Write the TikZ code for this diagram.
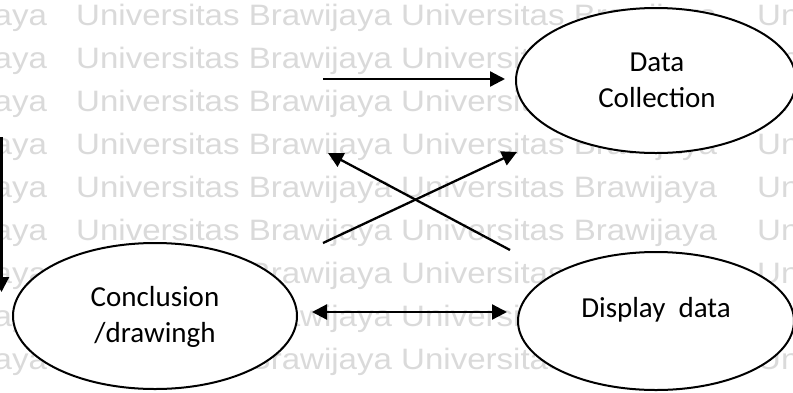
\documentclass[tikz,border=0pt]{standalone}
\usepackage{fontspec}
\setmainfont{Carlito}
\newfontfamily\wmfont{Liberation Sans}
\usetikzlibrary{shapes.geometric,arrows.meta}
\definecolor{wmgray}{RGB}{218,218,218}
\tikzset{
  wm/.style={anchor=base west, inner sep=0pt, text=wmgray, font=\wmfont\fontsize{29.5}{30}\selectfont, xscale=1.12},
  ell/.style={ellipse, draw=black, line width=2pt, fill=white, inner sep=0pt},
  lbl/.style={align=center, inner sep=0pt, font=\fontsize{29}{36}\selectfont},
  arr/.style={line width=2.3pt, -{Triangle[length=15pt,width=15pt]}},
  darr/.style={line width=2.3pt, {Triangle[length=15pt,width=15pt]}-{Triangle[length=15pt,width=15pt]}}
}
\begin{document}
\begin{tikzpicture}[x=1pt,y=-1pt]
\useasboundingbox (0,0) rectangle (793,392);
\fill[white] (0,0) rectangle (793,392);
\begin{scope}
\clip (0,0) rectangle (793,392);
% watermark
\foreach \yy [count=\i] in {25,68,111,154,197,240,283,326,369}{
  \node[wm] (wa\i) at (-269,\yy) {Universitas Brawijaya};
  \node[wm] (wb\i) at (76,\yy) {Universitas Brawijaya};
  \node[wm] (wc\i) at (401,\yy) {Universitas Brawijaya};
  \node[wm] (wd\i) at (757,\yy) {Universitas Brawijaya};
}
% ellipses
\node[ell, minimum width=280pt, minimum height=145pt] (dc) at (656,80.5) {};
\node[lbl] (dct) at (657,80) {Data\\Collection};
\node[ell, minimum width=276pt, minimum height=138pt] (dd) at (656,321) {};
\node[lbl] (ddt) at (656,310) {Display\ \ data};
\node[ell, minimum width=284pt, minimum height=146pt] (cd) at (155,316) {};
\node[lbl] (cdt) at (155,317) {Conclusion\\/drawingh};
% arrow end points
\coordinate (a1s) at (323,79);
\coordinate (a1e) at (505,79);
\coordinate (a2s) at (1.5,137);
\coordinate (a2e) at (1.5,292);
\coordinate (a3s) at (510,250);
\coordinate (a3e) at (328,153);
\coordinate (a4s) at (323,243);
\coordinate (a4e) at (517,152);
\coordinate (a5s) at (312,312);
\coordinate (a5e) at (507,312);
\draw[arr] (a1s) -- (a1e);
\draw[arr] (a2s) -- (a2e);
\draw[arr] (a3s) -- (a3e);
\draw[arr] (a4s) -- (a4e);
\draw[darr] (a5s) -- (a5e);
\end{scope}
\end{tikzpicture}
\end{document}
